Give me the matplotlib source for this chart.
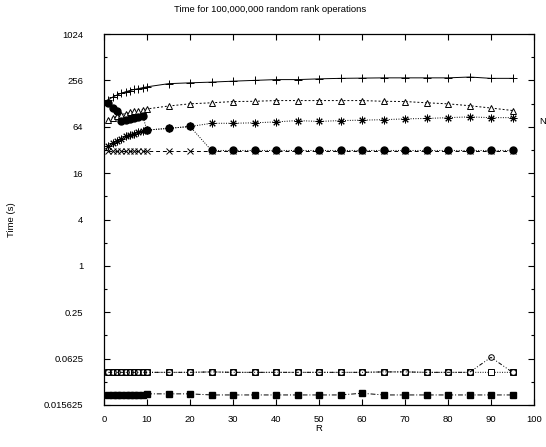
import matplotlib
matplotlib.use("Agg")
import matplotlib.pyplot as plt

plt.rcParams["font.family"] = ["Liberation Sans", "DejaVu Sans"]
plt.rcParams["font.size"] = 6.8

# R values (dense 1..10, then every 5 up to 95)
r_vals = list(range(1, 11)) + list(range(15, 100, 5))

plus_times = [144, 155, 165, 174, 182, 189, 195, 200, 206, 211,
              232, 238, 243, 250, 256, 262, 262, 268, 272, 274, 276, 276, 276, 276, 283, 272, 272]
tri_times = [79, 84, 88, 92, 95, 98, 101, 104, 107, 109,
             119, 127, 131, 136, 137, 140, 140, 140, 140, 140, 137, 136, 131, 127, 120, 112, 104]
star_times = [36, 39, 42, 45, 48, 50, 52, 54, 56, 58,
              61, 64.5, 71, 71, 72, 74, 77, 75, 77, 78, 79, 81, 82, 84, 86, 84, 84]
cross_times = [31] * 10 + [31] * 17
dot_times = [129, 112, 101, 76, 78, 81, 84, 86, 88, 58,
             61, 64.5, 31.5, 31.5, 31.5, 31.5, 31.5, 31.5, 31.5, 31.5, 31.5, 31.5, 31.5, 31.5, 31.5, 31.5, 31.5]
osq_times = [0.0415] * 10 + [0.0415, 0.0415, 0.042, 0.0415, 0.0415, 0.0415, 0.0415, 0.0415, 0.0415,
                             0.0415, 0.042, 0.042, 0.0415, 0.0415, 0.0415, 0.0415, 0.0415]
ocirc_times = [0.0415] * 10 + [0.0415, 0.0415, 0.042, 0.0415, 0.0415, 0.0415, 0.0415, 0.0415, 0.0415,
                               0.0415, 0.042, 0.042, 0.0415, 0.0415, 0.0415, 0.065, 0.0415]
fsq_times = [0.0212] * 9 + [0.0218, 0.0218, 0.0218, 0.0211, 0.0211, 0.0211, 0.0211, 0.0211, 0.0211,
                            0.0211, 0.0222, 0.0211, 0.0211, 0.0211, 0.0211, 0.0211, 0.0211, 0.0211]

y_ticks = [2.0 ** k for k in range(-6, 11, 2)]
y_labels = ["0.015625", "0.0625", "0.25", "1", "4", "16", "64", "256", "1024"]
x_ticks = list(range(0, 101, 10))

fig = plt.figure(figsize=(5.46, 4.47), dpi=100)
ax = fig.add_axes([104 / 546, 42 / 447, 430 / 546, 371 / 447])

lw = 0.7
ax.plot(r_vals, plus_times, color="black", lw=lw, ls="-", marker="+", ms=5.5, mew=0.7)
ax.plot(r_vals, tri_times, color="black", lw=lw, ls=(0, (2, 2)), marker="^", ms=5,
        mfc="white", mew=0.7)
ax.plot(r_vals, star_times, color="black", lw=lw, ls=(0, (1, 1.5)), marker=(8, 2, 0), ms=5.5, mew=0.7)
ax.plot(r_vals, cross_times, color="black", lw=lw, ls=(0, (4, 3)), marker="x", ms=4, mew=0.7)
ax.plot(r_vals, dot_times, color="black", lw=lw, ls=(0, (1, 1.5)), marker="o", ms=5)
ax.plot(r_vals, osq_times, color="black", lw=lw, ls=(0, (1, 1.5)), marker="s", ms=4.5,
        mfc="white", mew=0.7)
ax.plot(r_vals, ocirc_times, color="black", lw=lw, ls=(0, (4, 2, 1, 2, 1, 2)), marker="o", ms=4,
        mfc="none", mew=0.7)
ax.plot(r_vals, fsq_times, color="black", lw=lw, ls=(0, (5, 2, 1, 2)), marker="s", ms=5)

ax.set_yscale("log", base=2)
ax.set_ylim(2.0 ** -6, 2.0 ** 10)
ax.set_xlim(0, 100)
ax.set_yticks(y_ticks)
ax.set_yticklabels(y_labels)
ax.set_yticks([2.0 ** k for k in range(-5, 10, 2)], minor=True)
ax.set_yticklabels([], minor=True)
ax.set_xticks(x_ticks)
ax.tick_params(axis="both", which="major", direction="in", length=4.5, width=0.8,
               top=True, right=True)
ax.tick_params(axis="y", which="major", pad=15)
ax.tick_params(axis="x", which="major", pad=7)
ax.tick_params(axis="y", which="minor", direction="in", length=2.5, width=0.8, right=True)
ax.tick_params(axis="x", which="minor", bottom=False, top=False)
for s in ax.spines.values():
    s.set_linewidth(0.9)

ax.set_xlabel("R", labelpad=0)
ax.set_ylabel("Time (s)", labelpad=20)
fig.text(270 / 546, 1 - 10 / 447, "Time for 100,000,000 random rank operations",
         ha="center", va="center")

fig.text(539 / 546, 1 - 121 / 447, "N", ha="left", va="center")

fig.savefig("out.png", dpi=100)
